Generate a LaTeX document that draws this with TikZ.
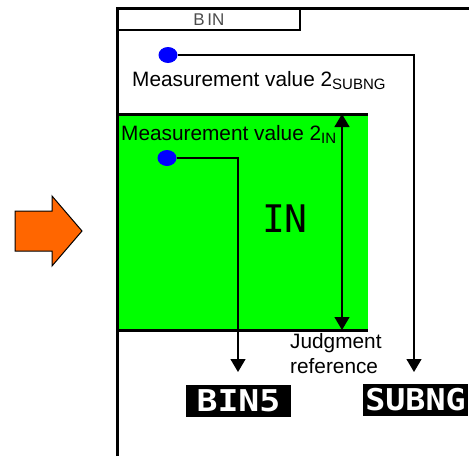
\documentclass[tikz,border=0pt]{standalone}
\usepackage{fontspec}
\setmainfont{Liberation Sans}
\newfontfamily\pixfont{DejaVu Sans Mono}
\usepackage{xcolor}
\usetikzlibrary{positioning, calc, arrows.meta, shapes.geometric}

\definecolor{arroworange}{HTML}{FF6600}
\definecolor{ingreen}{HTML}{00FF00}

% subscript as printed on the panel
\newcommand{\lowtxt}[1]{\raisebox{-3.5pt}{\fontsize{15}{15}\selectfont #1}}

\tikzset{
  frameline/.style={line width=3pt},
  tabbox/.style={draw, line width=1.8pt, anchor=north west, minimum width=182pt,
    minimum height=21pt, inner sep=0pt, text=black!70, font=\fontsize{17}{17}\selectfont},
  dot/.style={ellipse, fill=blue, minimum width=19pt, minimum height=16pt, inner sep=0pt},
  conn/.style={line width=1.3pt, -{Triangle[width=15pt,length=13pt]}},
  meas/.style={anchor=base west, inner sep=0pt, font=\fontsize{20.8}{26}\selectfont},
  binbox/.style={fill=black, text=white, minimum width=105pt, minimum height=32pt,
    inner sep=0pt, font=\pixfont\bfseries\fontsize{30}{30}\selectfont},
}

\begin{document}
\begin{tikzpicture}[x=1pt, y=-1pt]

    \useasboundingbox (0,0) rectangle (469,456);

    % --- Orange Pointer Arrow ---
    \draw[fill=arroworange, line width=1pt]
      (15,211) -- (52,211) -- (52,196) -- (82,231) -- (52,266) -- (52,251) -- (15,251) -- cycle;

    % --- Green IN Zone ---
    \node[fill=ingreen, anchor=north west, minimum width=251pt, minimum height=216pt,
      inner sep=0pt] (inzone) at (117,114) {};
    \draw[frameline] (inzone.north west) -- (inzone.north east);
    \draw[frameline] (inzone.south west) -- (inzone.south east);

    % --- Outer Frame and BIN Tab ---
    \draw[frameline] (117,456) -- (117,8) -- (469,8);
    \node[tabbox] (bintab) at (117,8) {B\,IN};

    % --- Measurement Values ---
    \node[dot] (dotng) at (168,55) {};
    \node[meas] (measng) at (132,86) {Measurement value 2\lowtxt{SUBNG}};
    \node[dot] (dotin) at (167,158) {};
    \node[meas] (measin) at (121,140) {Measurement value 2\lowtxt{IN}};

    % --- IN Label ---
    \node[font=\pixfont\fontsize{38}{38}\selectfont] (inlabel) at (285,219) {IN};

    % --- Judgment Reference (double arrow) ---
    \coordinate (reftop) at (342,114);
    \coordinate (refbot) at (342,330);
    \draw[line width=1.3pt, {Triangle[width=15pt,length=13pt]}-{Triangle[width=15pt,length=13pt]}]
      (reftop) -- (refbot);
    \node[anchor=north west, inner sep=0pt, align=left, font=\fontsize{20.8}{25}\selectfont]
      (judgref) at (290,333) {Judgment\\reference};

    % --- Result Boxes ---
    \node[binbox] (bin5) at (238.5,401) {\scalebox{1.16}[1]{BIN5}};
    \node[binbox] (subng) at (415.5,399.5) {\scalebox{1.11}[1]{SUBNG}};

    % --- Connectors ---
    \coordinate (inend) at (238,372);
    \coordinate (ngend) at (414,372);
    \draw[conn] (dotin.east) -| (inend);
    \draw[conn] (dotng.east) -| (ngend);

\end{tikzpicture}
\end{document}
